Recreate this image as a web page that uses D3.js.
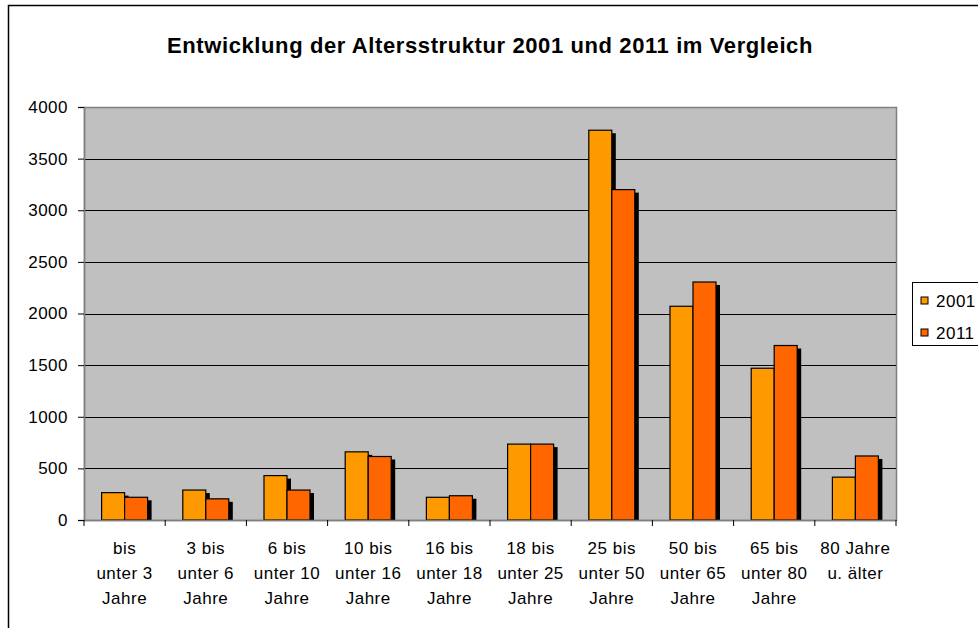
<!DOCTYPE html>
<html>
<head>
<meta charset="utf-8">
<script src="https://cdn.jsdelivr.net/npm/d3@7"></script>
<style>
  body { margin: 0; background: #fff; }
  svg { display: block; font-family: "Liberation Sans", Arial, sans-serif; }
</style>
</head>
<body>
<svg width="978" height="628"></svg>
<script>
var categories = [
  ["bis", "unter 3", "Jahre"],
  ["3 bis", "unter 6", "Jahre"],
  ["6 bis", "unter 10", "Jahre"],
  ["10 bis", "unter 16", "Jahre"],
  ["16 bis", "unter 18", "Jahre"],
  ["18 bis", "unter 25", "Jahre"],
  ["25 bis", "unter 50", "Jahre"],
  ["50 bis", "unter 65", "Jahre"],
  ["65 bis", "unter 80", "Jahre"],
  ["80 Jahre", "u. älter"]
];
var series = ["2001", "2011"];
var values2001 = [265, 290, 430, 660, 220, 735, 3775, 2070, 1470, 415];
var values2011 = [220, 205, 290, 615, 235, 735, 3200, 2305, 1690, 620];
var yTicks = [0, 500, 1000, 1500, 2000, 2500, 3000, 3500, 4000];
var colors = ["#FF9900", "#FF6600"];

var drawChart = function() {

  var svg = d3.select("svg");
  var plotLeft = 84, plotRight = 896, plotTop = 107, plotBottom = 520;

  // chart frame (runs off right and bottom edge)
  svg.append("path")
      .attr("d", "M8.5,640 V5.5 H990")
      .attr("fill", "none")
      .attr("stroke", "#000")
      .attr("stroke-width", 1.5);

  svg.append("text")
      .attr("x", 490)
      .attr("y", 53)
      .attr("text-anchor", "middle")
      .attr("font-size", 22)
      .attr("font-weight", "bold")
      .attr("letter-spacing", 0.6)
      .text("Entwicklung der Altersstruktur 2001 und 2011 im Vergleich");

  var x = d3.scaleBand()
      .domain(d3.range(categories.length))
      .range([plotLeft, plotRight]);

  var y = d3.scaleLinear()
      .domain([0, 4000])
      .range([plotBottom, plotTop]);

  // PLOT AREA

  svg.append("rect")
      .attr("x", plotLeft + 0.5)
      .attr("y", plotTop + 0.5)
      .attr("width", plotRight - plotLeft)
      .attr("height", plotBottom - plotTop)
      .attr("fill", "#C0C0C0")
      .attr("stroke", "#808080")
      .attr("stroke-width", 1.5);

  svg.append("g")
    .selectAll("line")
    .data(yTicks.filter(function(d) { return d > 0 && d < 4000; }))
    .enter().append("line")
      .attr("x1", plotLeft)
      .attr("x2", plotRight)
      .attr("y1", function(d) { return Math.round(y(d)) + 0.5; })
      .attr("y2", function(d) { return Math.round(y(d)) + 0.5; })
      .attr("stroke", "#000");

  // BARS

  var barW = 23, groupOff = (x.bandwidth() - 2 * barW) / 2;
  var rows = categories.map(function(c, i) {
    return [
      { i: i, s: 0, v: values2001[i] },
      { i: i, s: 1, v: values2011[i] }
    ];
  });

  var group = svg.append("g").attr("class", "bars")
    .selectAll("g")
    .data(rows)
    .enter().append("g");

  group.selectAll("rect.shadow")
    .data(function(d) { return d; })
    .enter().append("rect")
      .attr("class", "shadow")
      .attr("x", function(d) { return x(d.i) + groupOff + d.s * barW + 4; })
      .attr("y", function(d) { return y(d.v) + 3; })
      .attr("width", barW)
      .attr("height", function(d) { return Math.max(0, plotBottom - y(d.v) - 3); })
      .attr("fill", "#000");

  group.selectAll("rect.bar")
    .data(function(d) { return d; })
    .enter().append("rect")
      .attr("class", "bar")
      .attr("x", function(d) { return x(d.i) + groupOff + d.s * barW; })
      .attr("y", function(d) { return y(d.v); })
      .attr("width", barW)
      .attr("height", function(d) { return plotBottom - y(d.v); })
      .attr("fill", function(d) { return colors[d.s]; })
      .attr("stroke", "#000")
      .attr("stroke-width", 1.2);

  // AXES

  var yAxis = svg.append("g")
      .attr("transform", "translate(" + plotLeft + ",0)")
      .call(d3.axisLeft(y).tickValues(yTicks).tickFormat(d3.format("d"))
        .tickSize(6).tickPadding(10));
  yAxis.select(".domain").attr("stroke", "#808080").attr("stroke-width", 1.5);
  yAxis.selectAll(".tick line").attr("stroke", "#000");
  yAxis.selectAll("text")
      .attr("font-size", 17)
      .attr("letter-spacing", 0.5)
      .attr("fill", "#000")
      .attr("font-family", "\"Liberation Sans\", Arial, sans-serif");

  var xAxis = svg.append("g")
      .attr("transform", "translate(0," + plotBottom + ")");
  xAxis.append("line")
      .attr("x1", plotLeft).attr("x2", plotRight)
      .attr("y1", 0.5).attr("y2", 0.5)
      .attr("stroke", "#808080")
      .attr("stroke-width", 1.5);
  xAxis.selectAll("line.tick")
    .data(d3.range(categories.length + 1))
    .enter().append("line")
      .attr("class", "tick")
      .attr("x1", function(d) { return plotLeft + d * x.bandwidth(); })
      .attr("x2", function(d) { return plotLeft + d * x.bandwidth(); })
      .attr("y1", 0).attr("y2", 6)
      .attr("stroke", "#000");

  xAxis.selectAll("text")
    .data(categories)
    .enter().append("text")
      .attr("text-anchor", "middle")
      .attr("font-size", 17)
      .attr("letter-spacing", 0.5)
      .attr("transform", function(d, i) {
        return "translate(" + (x(i) + x.bandwidth() / 2) + ",0)";
      })
    .selectAll("tspan")
    .data(function(d) { return d; })
    .enter().append("tspan")
      .attr("x", 0)
      .attr("y", function(d, j) { return 34 + j * 25; })
      .text(function(d) { return d; });

  // LEGEND

  var legend = svg.append("g").attr("transform", "translate(912,282)");
  legend.append("rect")
      .attr("x", 0.5).attr("y", 0.5)
      .attr("width", 80).attr("height", 63)
      .attr("fill", "#fff")
      .attr("stroke", "#000");
  var item = legend.selectAll("g")
    .data(series)
    .enter().append("g")
      .attr("transform", function(d, i) { return "translate(9," + (15 + i * 32) + ")"; });
  item.append("rect")
      .attr("width", 7).attr("height", 7)
      .attr("fill", function(d, i) { return colors[i]; })
      .attr("stroke", "#000");
  item.append("text")
      .attr("x", 15)
      .attr("y", 10)
      .attr("font-size", 17)
      .attr("letter-spacing", 0.5)
      .text(function(d) { return d; });
}

drawChart();
</script>
</body>
</html>
